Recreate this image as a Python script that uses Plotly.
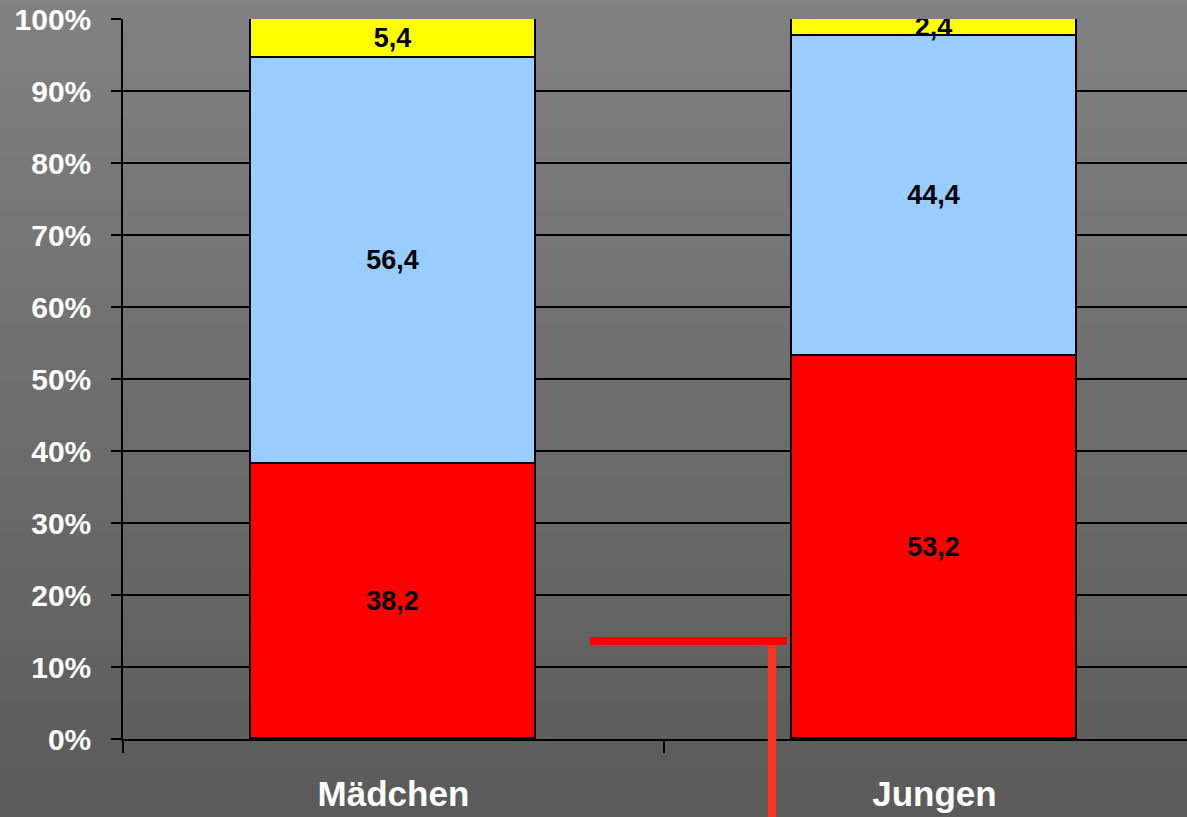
import plotly.graph_objects as go

# data (percent of each group)
groups = ['Mädchen', 'Jungen']
red_vals = [38.2, 53.2]
blue_vals = [56.4, 44.4]
yellow_vals = [5.4, 2.4]
y_ticks = [0, 10, 20, 30, 40, 50, 60, 70, 80, 90, 100]
y_tick_labels = ['%d%%' % v for v in y_ticks]

FONT = 'Arial, Liberation Sans, sans-serif'


def gradient_bands(n=60, top=(0x81, 0x81, 0x81), bottom=(0x5a, 0x5a, 0x5a)):
    """Fake a vertical gray gradient behind the whole figure with thin rectangles."""
    shapes = []
    y_lo, y_hi = -0.12, 1.04
    for i in range(n):
        t = i / (n - 1)
        c = [round(bottom[k] + (top[k] - bottom[k]) * t) for k in range(3)]
        y0 = y_lo + (y_hi - y_lo) * i / n
        y1 = y_lo + (y_hi - y_lo) * (i + 1) / n + 0.002
        shapes.append(dict(type='rect', xref='paper', yref='paper',
                           x0=-0.15, x1=1.05, y0=y0, y1=y1,
                           fillcolor='rgb(%d,%d,%d)' % tuple(c),
                           line=dict(width=0), layer='below'))
    return shapes


def stacked_bars():
    fig = go.Figure()
    for vals, color in [(red_vals, '#ff0000'), (blue_vals, '#99ccff'),
                        (yellow_vals, '#ffff00')]:
        fig.add_trace(go.Bar(
            x=groups, y=vals, width=0.527,
            marker=dict(color=color, line=dict(color='black', width=1.8)),
            texttemplate='%{y:.1f}', textposition='inside',
            insidetextanchor='middle', textangle=0, constraintext='none',
            textfont=dict(family=FONT, size=27, color='black',
                          weight='bold'),
            hoverinfo='skip'))
    return fig


def main():
    fig = stacked_bars()

    shapes = gradient_bands()
    # red marker lines drawn on the slide
    shapes.append(dict(type='line', xref='paper', yref='paper',
                       x0=0.4389, x1=0.6241, y0=0.1361, y1=0.1361,
                       line=dict(color='#ff0000', width=8)))
    shapes.append(dict(type='line', xref='paper', yref='paper',
                       x0=0.6100, x1=0.6100, y0=0.1306, y1=-0.12,
                       line=dict(color='#ff3020', width=8)))

    fig.update_layout(
        width=1187, height=817, autosize=False,
        margin=dict(l=123, r=0, t=19, b=78, pad=0),
        barmode='stack', bargap=0,
        separators=',.',
        showlegend=False,
        paper_bgcolor='#5a5a5a', plot_bgcolor='rgba(0,0,0,0)',
        shapes=shapes,
        hovermode=False,
    )
    fig.update_xaxes(
        type='category', range=[-0.5, 1.467],
        tickson='boundaries', ticks='outside', ticklen=12, tickwidth=1.5,
        tickcolor='black', showline=True, linecolor='black', linewidth=1.5,
        showgrid=False, zeroline=False, ticklabelstandoff=23,
        tickfont=dict(family=FONT, size=35, color='white', weight='bold'))
    fig.update_yaxes(
        range=[0, 100], tickvals=y_ticks, ticktext=y_tick_labels,
        ticks='outside', ticklen=10, tickwidth=1.5, tickcolor='black',
        showline=True, linecolor='black', linewidth=1.5,
        showgrid=True, gridcolor='black', gridwidth=1.5, zeroline=False,
        ticklabelstandoff=14,
        tickfont=dict(family=FONT, size=30, color='white', weight='bold'))

    fig.write_html('out.html', config={'displayModeBar': False},
                   post_script="document.body.style.margin='0';")


if __name__ == '__main__':
    main()
